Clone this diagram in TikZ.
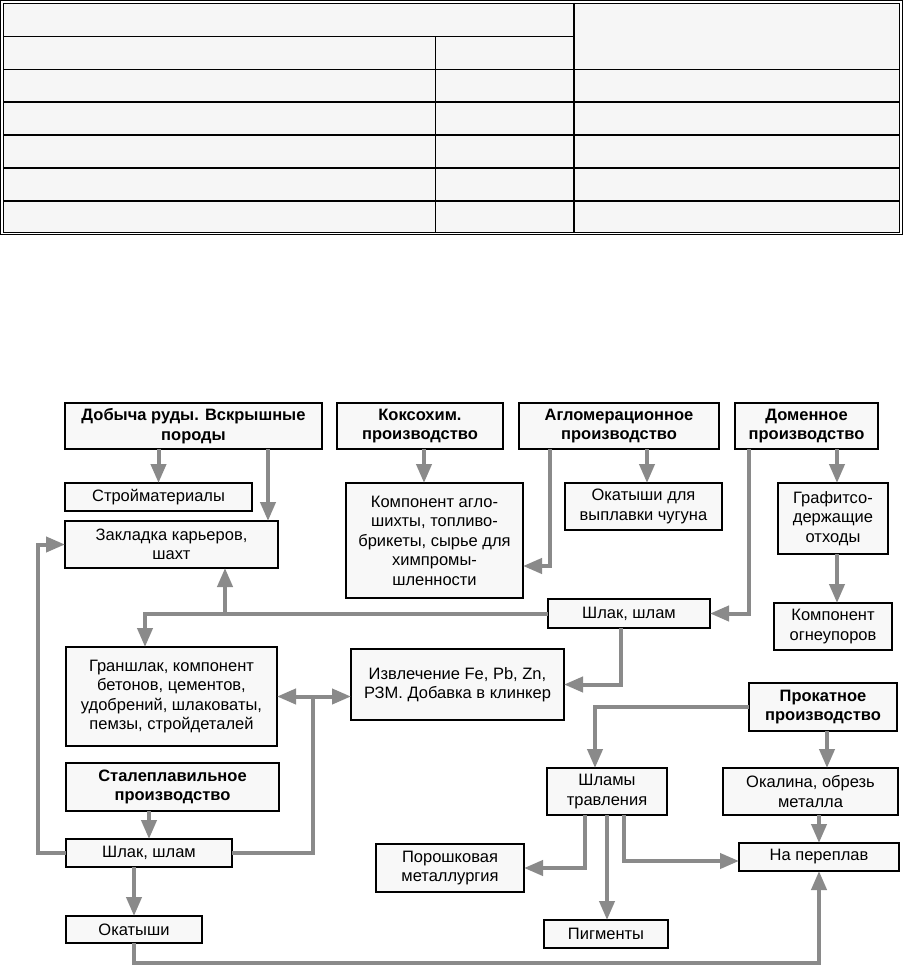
\documentclass[tikz,border=0pt]{standalone}
\usepackage{fontspec}
\setmainfont{Liberation Sans}
\usetikzlibrary{arrows.meta}
\definecolor{arrgray}{HTML}{8A8A8A}
\definecolor{boxfill}{HTML}{F8F8F8}
\definecolor{tabfill}{HTML}{F6F6F6}
\newcommand{\mkbox}[7]{\node[#1, minimum width={#4pt-#2pt}, minimum height={#5pt-#3pt}] (#6) at ({(#2+#4)/2},{(#3+#5)/2}) {#7};}
\begin{document}
\begin{tikzpicture}[x=1pt,y=-1pt,
  box/.style={draw=black, line width=1.1pt, fill=boxfill, inner sep=0pt, outer sep=0pt, align=center, font=\fontsize{16.5}{19.5}\selectfont},
  hdr/.style={box, font=\fontsize{16.5}{19.5}\selectfont\bfseries},
  conn/.style={draw=arrgray, line width=4pt},
  arr/.style={conn, -{Triangle[length=19pt,width=15pt]}},
  darr/.style={conn, {Triangle[length=19pt,width=15pt]}-{Triangle[length=19pt,width=15pt]}},
  tab/.style={line width=1.2pt, draw=black}]
\useasboundingbox (0,0) rectangle (903,965);
\fill[white] (0,0) rectangle (903,965);
% ---- empty table ----
\fill[tabfill] (3,3) rectangle (900,232.5);
\draw[tab] (0.8,0.8) rectangle (902.2,234.7);
\draw[tab] (3.2,3.2) rectangle (899.8,232.3);
\draw[tab] (3,36.5) -- (574,36.5);
\foreach \yy in {69.5,102,135,168,201} \draw[tab] (3,\yy) -- (900,\yy);
\draw[tab] (435.5,36.5) -- (435.5,232.5);
\draw[tab] (574,3) -- (574,232.5);
% ---- boxes ----
\mkbox{hdr}{65}{403}{322}{449}{dob}{Добыча руды. Вскрышные\\породы}
\mkbox{hdr}{337}{403}{503}{449}{koks}{Коксохим.\\производство}
\mkbox{hdr}{519}{403}{719}{449}{aglo}{Агломерационное\\производство}
\mkbox{hdr}{735}{403}{878}{449}{dom}{Доменное\\производство}
\mkbox{box}{65}{483}{252}{511}{stroy}{Стройматериалы}
\mkbox{box}{65}{521}{278}{568}{zakl}{Закладка карьеров,\\шахт}
\mkbox{box}{346}{483}{523}{598}{komp}{Компонент агло-\\шихты, топливо-\\брикеты, сырье для\\химпромы-\\шленности}
\mkbox{box}{565}{483}{722}{530}{okat1}{Окатыши для\\выплавки чугуна}
\mkbox{box}{778}{483}{888}{554}{graf}{Графитсо-\\держащие\\отходы}
\mkbox{box}{774}{603}{892}{650}{ogn}{Компонент\\огнеупоров}
\mkbox{box}{548}{599}{710}{628}{shlaka}{Шлак, шлам}
\mkbox{box}{66}{647}{277}{746}{gran}{Граншлак, компонент\\бетонов, цементов,\\удобрений, шлаковаты,\\пемзы, стройдеталей}
\mkbox{box}{351}{649}{564}{720}{izvl}{Извлечение Fe, Pb, Zn,\\РЗМ. Добавка в клинкер}
\mkbox{hdr}{749}{683}{897}{731}{prok}{Прокатное\\производство}
\mkbox{hdr}{66}{763}{279}{811}{stal}{Сталеплавильное\\производство}
\mkbox{box}{547}{768}{667}{815}{shlamy}{Шламы\\травления}
\mkbox{box}{723}{768}{898}{815}{okal}{Окалина, обрезь\\металла}
\mkbox{box}{66}{839}{232}{867}{shlakb}{Шлак, шлам}
\mkbox{box}{376}{844}{524}{892}{porosh}{Порошковая\\металлургия}
\mkbox{box}{739}{843}{899}{871}{perepl}{На переплав}
\mkbox{box}{66}{916}{202}{943}{okat2}{Окатыши}
\mkbox{box}{544}{920}{668}{948}{pigm}{Пигменты}
% ---- connectors ----
\draw[arr] (dob.south -| stroy.north) -- (stroy.north);
\draw[arr] ([xshift=203pt]dob.south west) coordinate (t1) -- (t1 |- zakl.north);
\draw[arr] ([xshift=87pt]koks.south west) coordinate (t2) -- (t2 |- komp.north);
\draw[arr] ([xshift=31pt]aglo.south west) |- ([yshift=-25.5pt]komp.east);
\draw[arr] ([xshift=128pt]aglo.south west) coordinate (t3) -- (t3 |- okat1.north);
\draw[arr] ([xshift=14pt]dom.south west) |- (shlaka.east);
\draw[arr] ([xshift=102pt]dom.south west) coordinate (t4) -- (t4 |- graf.north);
\draw[arr] ([xshift=59pt]graf.south west) coordinate (t5) -- (t5 |- ogn.north);
\draw[arr] (shlaka.west) -| ([xshift=79pt]gran.north west);
\path ([xshift=160pt]zakl.south west) coordinate (zb);
\draw[arr] (zb |- shlaka.west) -- (zb);
\draw[arr] ([xshift=73pt]shlaka.south west) |- (izvl.east);
\draw[darr] (gran.east) -- (gran.east -| izvl.west);
\path (gran.east) ++(36,0) coordinate (m1);
\draw[conn] (shlakb.east) -| (m1);
\draw[arr] (stal.south -| shlakb.north) -- (shlakb.north);
\draw[arr] (shlakb.west) -- ++(-28,0) |- (zakl.west);
\draw[arr] (shlakb.south -| okat2.north) -- (okat2.north);
\draw[arr] (okat2.south) -- ++(0,20) -| (perepl.south);
\draw[arr] (prok.west) -| ([xshift=48pt]shlamy.north west);
\draw[arr] ([xshift=78pt]prok.south west) coordinate (t6) -- (t6 |- okal.north);
\draw[arr] (okal.south -| perepl.north) -- (perepl.north);
\draw[arr] ([xshift=38pt]shlamy.south west) |- (porosh.east);
\draw[arr] (shlamy.south) -- (shlamy.south |- pigm.north);
\draw[arr] ([xshift=77pt]shlamy.south west) |- ([yshift=-4pt]perepl.west);
\end{tikzpicture}
\end{document}
